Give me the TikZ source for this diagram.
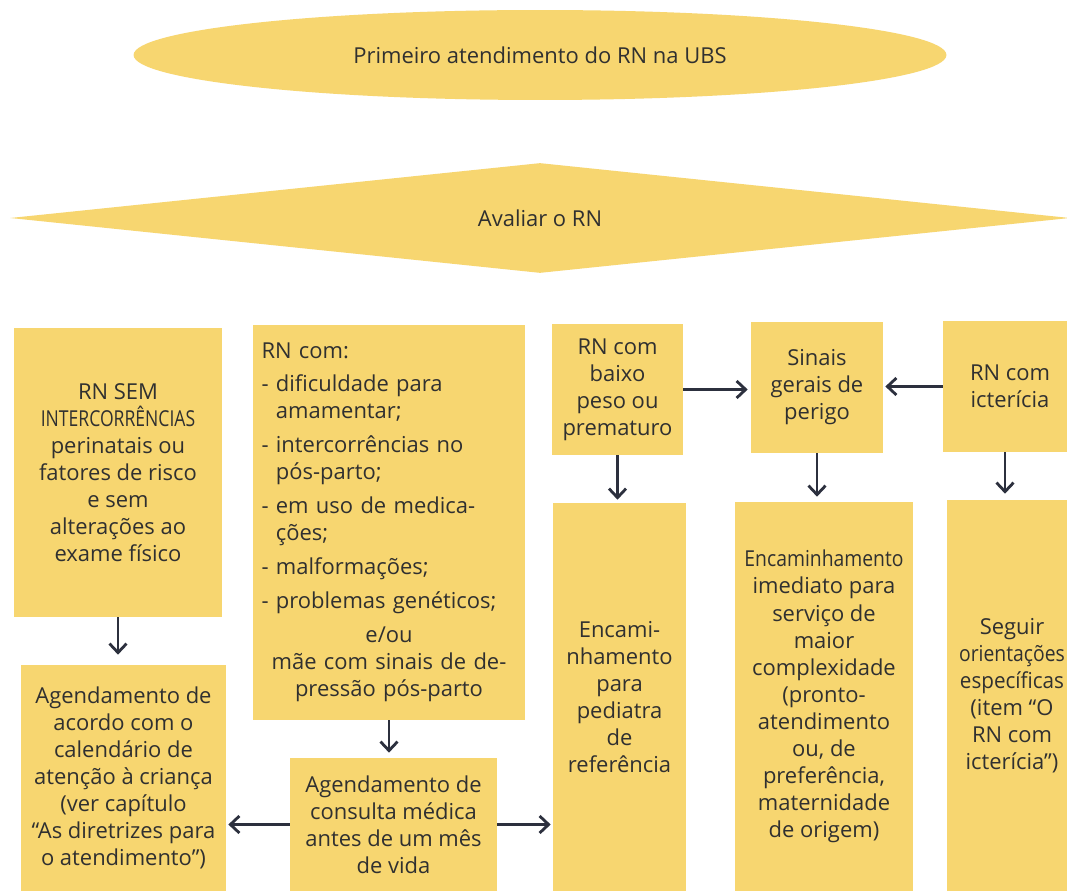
\documentclass[tikz,border=0pt]{standalone}
\usepackage{fontspec}
\setmainfont{Open Sans}
\usepackage{graphicx}
\usetikzlibrary{shapes.geometric}
\usetikzlibrary{arrows.meta}
\usetikzlibrary{backgrounds}
\definecolor{boxyellow}{RGB}{247,214,112}
\definecolor{ink}{RGB}{48,48,48}
\definecolor{arrowink}{RGB}{44,48,62}

\begin{document}
\begin{tikzpicture}[x=0.02cm, y=-0.02cm,
  box/.style={fill=boxyellow, text=ink, align=center, inner sep=0pt, font=\fontsize{12.5}{15.4}\selectfont},
  arr/.style={draw=arrowink, line width=1.6pt, -{Straight Barb[length=1.8mm,width=3.4mm]}}]
\useasboundingbox[fill=white] (0,0) rectangle (1067,891);

\node[box, ellipse, minimum width=16.26cm, minimum height=1.8cm] (inicio) at (540,55) {Primeiro atendimento do RN na UBS};
\node[box, diamond, aspect=9.6, minimum width=21.2cm, minimum height=2.2cm] (avaliar) at (540,218) {Avaliar o RN};

\node[box, minimum width=4.16cm, minimum height=5.78cm] (semrisco) at (118,472.5) {RN SEM\\ \scalebox{0.8}[1]{INTERCORRÊNCIAS}\\ perinatais ou\\ fatores de risco\\ e sem\\ alterações ao\\ exame físico};
\node[box, align=left, text width=5.1cm, minimum width=5.44cm, minimum height=7.9cm] (comrisco) at (389,522.5) {RN com:\\[3pt]
- dificuldade para\\ \phantom{- }amamentar;\\[4pt]
- intercorrências no\\ \phantom{- }pós-parto;\\[4pt]
- em uso de medica-\\ \phantom{- }ções;\\[4pt]
- malformações;\\[4pt]
- problemas genéticos;\par
{\centering\vspace{4pt}e/ou\\ mãe com sinais de de-\\ pressão pós-parto\par}};
\node[box, minimum width=2.62cm, minimum height=2.62cm] (baixopeso) at (617.5,389.5) {RN com\\ baixo\\ peso ou\\ prematuro};
\node[box, minimum width=2.64cm, minimum height=2.62cm] (perigo) at (817,387.5) {Sinais\\ gerais de\\ perigo};
\node[box, minimum width=2.68cm, minimum height=2.62cm] (ictericia) at (1010,386.5) {RN com\\ icterícia};

\node[box, minimum width=2.66cm, minimum height=7.76cm] (pediatra) at (619.5,697) {Encami-\\ nhamento\\ para\\ pediatra\\ de\\ referência};
\node[box, minimum width=3.56cm, minimum height=7.78cm] (imediato) at (824,696.5) {\scalebox{0.88}[1]{Encaminhamento}\\ imediato para\\ serviço de\\ maior\\ complexidade\\ (pronto-\\ atendimento\\ ou, de\\ preferência,\\ maternidade\\ de origem)};
\node[box, minimum width=2.6cm, minimum height=7.82cm] (seguir) at (1012,695.5) {Seguir\\ \scalebox{0.88}[1]{orientações}\\ \scalebox{0.94}[1]{específicas}\\ (item “O\\ RN com\\ icterícia”)};

\node[box, minimum width=4.1cm, minimum height=4.52cm] (calendario) at (123.5,778) {Agendamento de\\ acordo com o\\ calendário de\\ atenção à criança\\ (ver capítulo\\ “As diretrizes para\\ o atendimento”)};
\node[box, minimum width=4.14cm, minimum height=2.66cm] (consulta) at (393.5,824.5) {Agendamento de\\ consulta médica\\ antes de um mês\\ de vida};

\begin{scope}[on background layer]
\draw[arr, shorten >=0.22cm] (inicio.south) -- (avaliar.north);
\draw[arr, shorten >=0.5cm] (semrisco.north |- avaliar.center) -- (semrisco.north);
\draw[arr, shorten >=0.26cm] ([xshift=-0.36cm]comrisco.north |- avaliar.center) -- ([xshift=-0.36cm]comrisco.north);
\draw[arr, shorten >=0.08cm] (baixopeso.north |- avaliar.center) -- (baixopeso.north);
\draw[arr, shorten >=0.14cm] (perigo.north |- avaliar.center) -- (perigo.north);
\draw[arr, shorten >=0.44cm] ([xshift=-0.1cm]ictericia.north |- avaliar.center) -- ([xshift=-0.1cm]ictericia.north);
\end{scope}

\draw[arr, shorten >=0.06cm] (baixopeso.east) -- (perigo.west |- baixopeso.east);
\draw[arr, shorten >=0.04cm] (ictericia.west) -- (perigo.east |- ictericia.west);
\draw[arr, shorten >=0.06cm] (baixopeso.south) -- (baixopeso.south |- pediatra.north);
\draw[arr, shorten >=0.1cm] (perigo.south) -- (perigo.south |- imediato.north);
\draw[arr, shorten >=0.12cm] ([xshift=-0.1cm]ictericia.south) -- ([xshift=-0.1cm]ictericia.south |- seguir.north);
\draw[arr, shorten >=0.2cm] (semrisco.south) -- (semrisco.south |- calendario.north);
\draw[arr, shorten >=0.1cm] (comrisco.south) -- (comrisco.south |- consulta.north);
\draw[arr, shorten >=0.04cm] (consulta.west) -- (calendario.east |- consulta.west);
\draw[arr, shorten >=0.04cm] (consulta.east) -- (pediatra.west |- consulta.east);
\end{tikzpicture}
\end{document}
